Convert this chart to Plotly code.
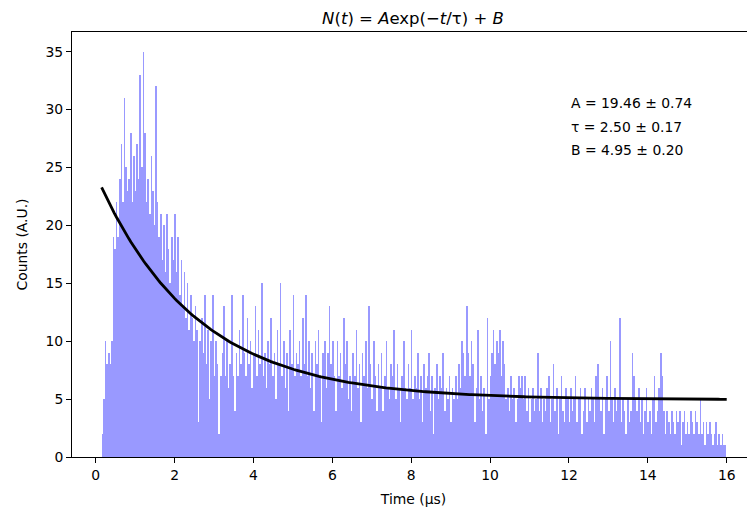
import numpy as np
import plotly.graph_objects as go

# Histogram: bins of width 0.04 µs starting at 0.15 µs
bin_start = 0.15
bin_width = 0.04
counts = [
    # 0.15 - 1.15
    2, 5, 10, 8, 9, 8, 10, 19, 18, 22, 19, 24, 27, 22, 31, 25, 23, 24, 28, 22, 26, 23, 27, 24, 33,
    # 1.15 - 2.15
    25, 35, 28, 22, 24, 21, 26, 23, 20, 32, 22, 19, 21, 17, 20, 16, 21, 18, 15, 19, 17, 21, 16, 19, 14,
    # 2.15 - 3.15
    17, 13, 16, 12, 15, 11, 14, 12, 10, 13, 11, 3, 10, 12, 9, 14, 8, 11, 5, 10, 14, 7, 10, 8, 2,
    # 3.15 - 4.15
    7, 9, 13, 7, 10, 6, 8, 14, 7, 4, 9, 7, 11, 8, 14, 9, 7, 12, 8, 10, 6, 9, 13, 7, 11,
    # 4.15 - 5.15
    8, 15, 7, 9, 6, 10, 8, 12, 7, 9, 5, 11, 8, 15, 7, 10, 6, 9, 4, 11, 8, 14, 7, 9, 8,
    # 5.15 - 6.15
    10, 7, 12, 8, 14, 7, 10, 6, 9, 4, 10, 8, 11, 7, 3, 9, 10, 6, 9, 13, 8, 10, 7, 4, 10,
    # 6.15 - 7.15
    7, 9, 6, 12, 8, 10, 5, 7, 4, 9, 7, 11, 6, 8, 3, 9, 7, 10, 6, 13, 8, 5, 10, 7, 4,
    # 7.15 - 8.15
    8, 6, 9, 4, 7, 10, 6, 5, 8, 7, 11, 5, 8, 6, 3, 7, 10, 6, 5, 8, 6, 11, 5, 7, 6,
    # 8.15 - 9.15
    9, 5, 7, 3, 8, 6, 7, 9, 4, 7, 2, 6, 8, 5, 7, 6, 9, 4, 6, 5, 7, 3, 6, 5, 7,
    # 9.15 - 10.15
    5, 8, 6, 10, 9, 7, 13, 9, 7, 10, 8, 3, 6, 11, 5, 7, 4, 6, 2, 12, 5, 7, 9, 11, 8,
    # 10.15 - 11.15
    10, 9, 11, 7, 10, 8, 5, 6, 4, 7, 5, 6, 3, 5, 7, 6, 7, 5, 7, 4, 6, 3, 5, 6, 4,
    # 11.15 - 12.15
    5, 9, 4, 6, 3, 5, 4, 6, 7, 3, 5, 8, 4, 6, 2, 5, 7, 4, 3, 6, 5, 3, 6, 4, 5,
    # 12.15 - 13.15
    7, 3, 5, 6, 2, 4, 6, 3, 5, 4, 6, 5, 3, 7, 8, 5, 4, 6, 2, 5, 7, 4, 10, 5, 3,
    # 13.15 - 14.15
    6, 4, 5, 12, 3, 5, 4, 2, 5, 3, 4, 9, 7, 5, 4, 6, 3, 5, 2, 4, 6, 3, 4, 2, 5,
    # 14.15 - 15.15
    7, 3, 4, 6, 9, 7, 4, 2, 4, 3, 2, 4, 3, 2, 4, 3, 4, 1, 3, 4, 2, 3, 2, 4, 3,
    # 15.15 - 15.99
    2, 4, 3, 2, 5, 2, 3, 1, 3, 2, 3, 2, 1, 2, 3, 1, 2, 1, 2, 1, 1,
]

# Fit parameters
A, A_err = 19.46, 0.74
tau, tau_err = 2.50, 0.17
B, B_err = 4.95, 0.20

fit_t_start, fit_t_end = 0.15, 16.0
x_ticks = [0, 2, 4, 6, 8, 10, 12, 14, 16]
y_ticks = [0, 5, 10, 15, 20, 25, 30, 35]

centers = bin_start + bin_width * (np.arange(len(counts)) + 0.5)
t_fit = np.linspace(fit_t_start, fit_t_end, 300)
n_fit = A * np.exp(-t_fit / tau) + B

FONT = "DejaVu Sans"
FS = 13.9

# page body has an 8px default margin, so the figure is 8px smaller each way
W, H = 747, 499

fig = go.Figure()
fig.add_trace(go.Bar(
    x=centers, y=counts, width=bin_width,
    marker=dict(color="rgba(0,0,255,0.4)", line=dict(width=0)),
    showlegend=False,
))
fig.add_trace(go.Scatter(
    x=t_fit, y=n_fit, mode="lines",
    line=dict(color="black", width=2.8),
    showlegend=False,
))

ann_lines = [
    f"A = {A:.2f} ± {A_err:.2f}",
    f"τ = {tau:.2f} ± {tau_err:.2f}",
    f"B = {B:.2f} ± {B_err:.2f}",
]
ann_y = [30.57, 28.5, 26.5]
for txt, yy in zip(ann_lines, ann_y):
    fig.add_annotation(x=12.0, y=yy, xref="x", yref="y", text=txt,
                       showarrow=False, xanchor="left", yanchor="middle",
                       font=dict(family=FONT, size=FS, color="black"))

fig.update_layout(
    width=W, height=H,
    margin=dict(l=64, r=0, t=24, b=50),
    plot_bgcolor="white", paper_bgcolor="white",
    bargap=0,
    font=dict(family=FONT, size=FS, color="black"),
    title=dict(
        text="<i>N</i>(<i>t</i>) = <i>A</i>exp(−<i>t</i>/τ) + <i>B</i>",
        x=405 / W, xanchor="center", y=1 - 10 / H, yanchor="middle",
        font=dict(family=FONT, size=16.5, color="black"),
    ),
    xaxis=dict(
        range=[-0.601, 16.717], tickvals=x_ticks, ticks="outside", ticklen=5,
        tickcolor="black", showline=True, linecolor="black", linewidth=1,
        mirror=True, showgrid=False, zeroline=False,
        title=dict(text="Time (µs)", standoff=12, font=dict(size=FS)),
        automargin=False,
    ),
    yaxis=dict(
        range=[0, 36.7], tickvals=y_ticks, ticks="outside", ticklen=5,
        tickcolor="black", showline=True, linecolor="black", linewidth=1,
        showgrid=False, zeroline=False,
        title=dict(text="Counts (A.U.)", standoff=14, font=dict(size=FS)),
        automargin=False,
    ),
)

fig.write_html("out.html")
